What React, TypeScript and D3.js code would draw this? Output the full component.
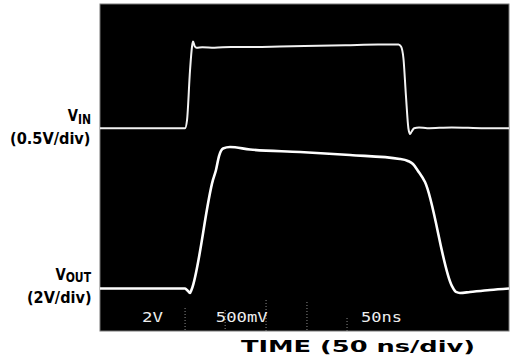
import React from "react";
import * as d3 from "d3";

// ---- data (oscilloscope traces) ----
// V_IN trace: time in ns, volts (0.5 V/div)
const vinTime = [0, 103.9, 106.4, 110, 112.5, 113.7, 116, 118, 125, 140, 160, 183, 220, 250, 300, 340, 365, 368, 371, 374, 377, 379, 381, 384, 390, 400, 430, 470, 500];
const vinVolts = [0, 0, 0.1, 0.7, 1.0, 1.06, 1.0, 0.985, 0.99, 0.985, 0.995, 0.995, 1.0, 1.005, 1.015, 1.025, 1.025, 1.0, 0.85, 0.4, 0.0, -0.07, -0.04, 0.0, 0.01, 0.0, 0.01, 0.0, 0.0];
// V_OUT trace: time in ns, volts (2 V/div)
const voutTime = [0, 104, 107, 110, 112, 138.1, 141.8, 145.5, 150.4, 158.9, 183.4, 244.5, 305.6, 366.7, 376.5, 382.6, 388.8, 397.3, 430.3, 435.2, 440.1, 452.3, 476.8, 500];
const voutVolts = [0, 0, -0.1, -0.22, -0.05, 5.31, 5.8, 6.48, 6.85, 6.92, 6.8, 6.68, 6.53, 6.34, 6.24, 6.09, 5.75, 5.21, 0.12, -0.17, -0.22, -0.17, -0.07, 0];
// screen readouts
const readouts = [
  { text: "2V", t: 51.5, w: 21 },
  { text: "500mV", t: 141.5, w: 52 },
  { text: "50ns", t: 319, w: 41 },
];
// visible graticule ticks along the bottom (ns)
const gratTicks = [104, 153, 203, 253, 302];
const gratTickTop = [308, 310, 300, 302, 318];

const W = 514;
const H = 359;
const scr = { x0: 100, x1: 509, y0: 4, y1: 331 };
const DIVS_X = 10;
const DIVS_Y = 8;
const VIN_PER_DIV = 0.5;
const VOUT_PER_DIV = 2;
const VIN_OFFSET = 4.96;
const VOUT_OFFSET = 1.04;

export default function App() {
  const x = d3.scaleLinear().domain([0, 50 * DIVS_X]).range([scr.x0, scr.x1]);
  const yDiv = d3.scaleLinear().domain([0, DIVS_Y]).range([scr.y1, scr.y0]);

  const vinPts = vinTime.map((t, i) => [x(t), yDiv(VIN_OFFSET + vinVolts[i] / VIN_PER_DIV)] as [number, number]);
  const voutPts = voutTime.map((t, i) => [x(t), yDiv(VOUT_OFFSET + voutVolts[i] / VOUT_PER_DIV)] as [number, number]);
  const line = d3.line().curve(d3.curveMonotoneX);

  const labelFont = "'DejaVu Sans', 'Liberation Sans', Arial, sans-serif";

  return (
    <svg width={W} height={H} style={{ position: "absolute", left: 0, top: 0, background: "#fff" }}>
      <rect x={scr.x0} y={scr.y0} width={scr.x1 - scr.x0} height={scr.y1 - scr.y0} fill="#000" stroke="#777" strokeWidth={1} />
      {gratTicks.map((t, i) => (
        <line key={i} x1={x(t)} x2={x(t)} y1={gratTickTop[i]} y2={scr.y1} stroke="#8a8a8a" strokeWidth={1} strokeDasharray="1,2" />
      ))}
      <path d={line(vinPts) || ""} fill="none" stroke="#f2f2f2" strokeWidth={2} strokeLinejoin="round" />
      <path d={line(voutPts) || ""} fill="none" stroke="#ffffff" strokeWidth={2.6} strokeLinejoin="round" />
      {readouts.map((r, i) => (
        <text key={i} x={x(r.t)} y={322} fill="#eeeeee" fontFamily="'DejaVu Sans Mono', monospace" fontSize={14.5}
          textLength={r.w} lengthAdjust="spacingAndGlyphs">{r.text}</text>
      ))}
      <g fontFamily={labelFont} fontWeight="bold" fill="#000">
        <text transform="translate(91,121) scale(0.8,1)" textAnchor="end" fontWeight="bold">
          <tspan fontSize={16.5} fontWeight="bold">V</tspan>
          <tspan fontSize={13.5} dy={2.5} fontWeight="bold">IN</tspan>
        </text>
        <text x={10} y={143.5} fontSize={16} textLength={80.5} lengthAdjust="spacingAndGlyphs">(0.5V/div)</text>
        <text transform="translate(91,280) scale(0.8,1)" textAnchor="end" fontWeight="bold">
          <tspan fontSize={16.5} fontWeight="bold">V</tspan>
          <tspan fontSize={13.5} dy={2} fontWeight="bold">OUT</tspan>
        </text>
        <text x={27} y={302.5} fontSize={16} textLength={64.5} lengthAdjust="spacingAndGlyphs">(2V/div)</text>
        <text x={241} y={352} fontSize={16} textLength={234} lengthAdjust="spacingAndGlyphs">TIME (50 ns/div)</text>
      </g>
    </svg>
  );
}
